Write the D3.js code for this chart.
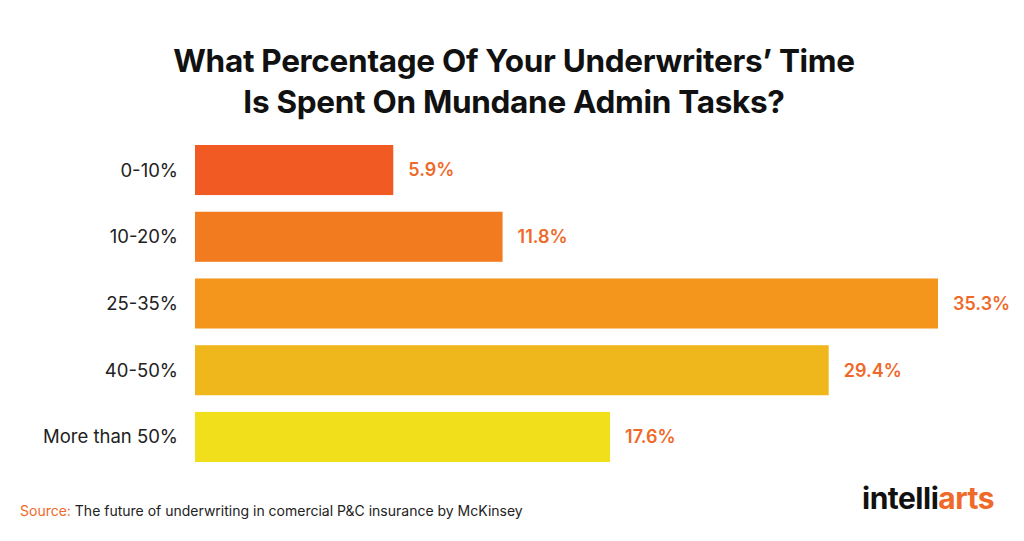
<!DOCTYPE html>
<html><head><meta charset="utf-8">
<script src="https://cdn.jsdelivr.net/npm/d3@7"></script>
<style>body{margin:0;background:#fff}</style></head>
<body><svg id="c" width="1024" height="541"></svg>
<script>
const categories = ["0-10%","10-20%","25-35%","40-50%","More than 50%"];
const values = [5.9, 11.8, 35.3, 29.4, 17.6];
const colors = ["#f15a22","#f27b1f","#f4951c","#f0b71d","#f0df1a"];
const svg = d3.select("#c");
const font = "Inter, 'Noto Sans', sans-serif";
svg.append("text").attr("x",514).attr("y",72).attr("text-anchor","middle")
  .attr("font-family",font).attr("font-weight",700).attr("font-size",31.5).attr("fill","#111").attr("letter-spacing",-0.3)
  .text("What Percentage Of Your Underwriters’ Time");
svg.append("text").attr("x",514).attr("y",113).attr("text-anchor","middle")
  .attr("font-family",font).attr("font-weight",700).attr("font-size",31.5).attr("fill","#111").attr("letter-spacing",-0.3)
  .text("Is Spent On Mundane Admin Tasks?");
const x = d3.scaleLinear().domain([-4.8,35.3]).range([195,938]);
const y = d3.scaleBand().domain(categories).range([137,470]).paddingInner(0.25).paddingOuter(0.12);
categories.forEach((c,i)=>{
  svg.append("rect").attr("x",x(-4.8)).attr("y",y(c)).attr("width",x(values[i])-x(-4.8))
    .attr("height",y.bandwidth()).attr("fill",colors[i]);
  svg.append("text").attr("x",178).attr("y",y(c)+y.bandwidth()/2).attr("dy","0.35em")
    .attr("text-anchor","end").attr("font-family",font).attr("font-size",18.5).attr("fill","#222").text(c);
  svg.append("text").attr("x",x(values[i])+15).attr("y",y(c)+y.bandwidth()/2).attr("dy","0.35em")
    .attr("font-family",font).attr("font-weight",600).attr("font-size",18).attr("fill","#ef6a2a").text(values[i].toFixed(1)+"%");
});
const s = svg.append("text").attr("x",20).attr("y",516).attr("font-family",font).attr("font-size",14);
s.append("tspan").attr("fill","#ef6a2a").text("Source: ");
s.append("tspan").attr("fill","#222").text("The future of underwriting in comercial P&C insurance by McKinsey");
const l = svg.append("text").attr("x",862).attr("y",509).attr("font-family",font).attr("font-weight",700).attr("font-size",30).attr("letter-spacing",-0.5);
l.append("tspan").attr("fill","#111").text("intelli");
l.append("tspan").attr("fill","#ef6a2a").text("arts");
</script></body></html>
